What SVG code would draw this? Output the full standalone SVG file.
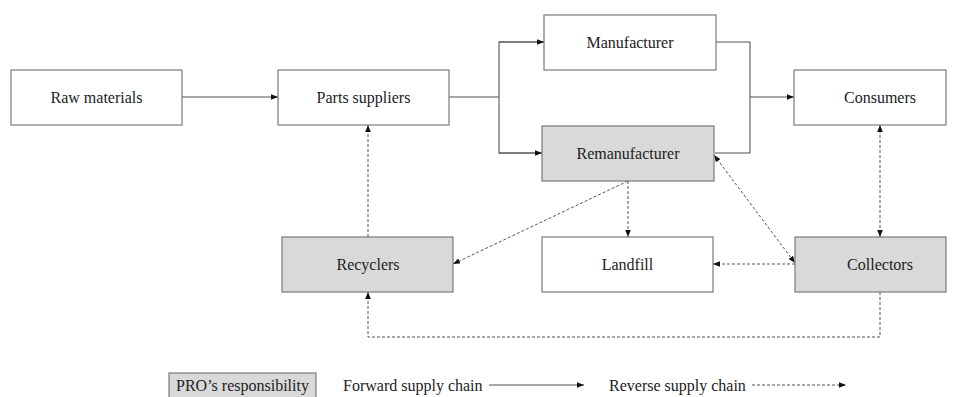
<svg xmlns="http://www.w3.org/2000/svg" width="955" height="397" viewBox="0 0 955 397">
<defs>
<marker id="ah" viewBox="0 0 10 10" refX="10" refY="5" markerWidth="7" markerHeight="7" orient="auto-start-reverse" markerUnits="userSpaceOnUse">
<path d="M0,1 L10,5 L0,9 Z" fill="#111"/>
</marker>
<style>
.box{fill:#fff;stroke:#7a7a7a;stroke-width:1.2}
.pro{fill:#d9d9d9;stroke:#7a7a7a;stroke-width:1.2}
.t{font-family:"Liberation Serif","DejaVu Serif",serif;font-size:16px;fill:#222;text-anchor:middle}
.lt{font-family:"Liberation Serif","DejaVu Serif",serif;font-size:16px;fill:#222}
.fw{fill:none;stroke:#555;stroke-width:1.1}
.rv{fill:none;stroke:#555;stroke-width:1;stroke-dasharray:3 2}
</style>
</defs>
<rect width="955" height="397" fill="#fff"/>
<g id="connectors">
<line class="fw" x1="182" y1="97" x2="278" y2="97" marker-end="url(#ah)"/>
<polyline class="fw" points="449,97 499,97"/>
<polyline class="fw" points="544,42 499,42 499,153 542,153"/>
<line class="fw" x1="499" y1="42" x2="544" y2="42" marker-end="url(#ah)"/>
<line class="fw" x1="499" y1="153" x2="542" y2="153" marker-end="url(#ah)"/>
<polyline class="fw" points="716,42 750,42 750,153 715,153"/>
<line class="fw" x1="750" y1="97" x2="794" y2="97" marker-end="url(#ah)"/>
<line class="rv" x1="368" y1="237" x2="368" y2="125" marker-end="url(#ah)"/>
<line class="rv" x1="628" y1="181" x2="628" y2="237" marker-end="url(#ah)"/>
<line class="rv" x1="628" y1="181" x2="453" y2="264" marker-end="url(#ah)"/>
<line class="rv" x1="714" y1="155" x2="795" y2="263" marker-start="url(#ah)" marker-end="url(#ah)"/>
<line class="rv" x1="795" y1="264" x2="713" y2="264" marker-end="url(#ah)"/>
<line class="rv" x1="880" y1="125" x2="880" y2="237" marker-start="url(#ah)" marker-end="url(#ah)"/>
<polyline class="rv" points="880,292 880,337 368,337 368,292" marker-end="url(#ah)"/>
</g>
<g id="raw-materials"><rect class="box" x="11" y="70" width="171" height="55"/><text class="t" x="96.5" y="102.5">Raw materials</text></g>
<g id="parts-suppliers"><rect class="box" x="278" y="70" width="171" height="55"/><text class="t" x="363.5" y="102.5">Parts suppliers</text></g>
<g id="manufacturer"><rect class="box" x="544" y="15" width="172" height="55"/><text class="t" x="630" y="47.5">Manufacturer</text></g>
<g id="remanufacturer"><rect class="pro" x="542" y="126" width="172" height="55"/><text class="t" x="628" y="158.5">Remanufacturer</text></g>
<g id="consumers"><rect class="box" x="794" y="70" width="152" height="55"/><text class="t" x="880" y="102.5">Consumers</text></g>
<g id="recyclers"><rect class="pro" x="282" y="237" width="171" height="55"/><text class="t" x="368" y="269.5">Recyclers</text></g>
<g id="landfill"><rect class="box" x="542" y="237" width="171" height="55"/><text class="t" x="627.5" y="269.5">Landfill</text></g>
<g id="collectors"><rect class="pro" x="795" y="237" width="151" height="55"/><text class="t" x="880" y="269.5">Collectors</text></g>
<g id="legend">
<rect class="pro" x="169" y="373" width="147" height="25"/>
<text class="t" x="242.5" y="390.5">PRO’s responsibility</text>
<text class="lt" x="343" y="390.5">Forward supply chain</text>
<line class="fw" x1="489" y1="385" x2="584" y2="385" marker-end="url(#ah)"/>
<text class="lt" x="609" y="390.5">Reverse supply chain</text>
<line class="rv" x1="752" y1="385" x2="846" y2="385" marker-end="url(#ah)"/>
</g>
</svg>
